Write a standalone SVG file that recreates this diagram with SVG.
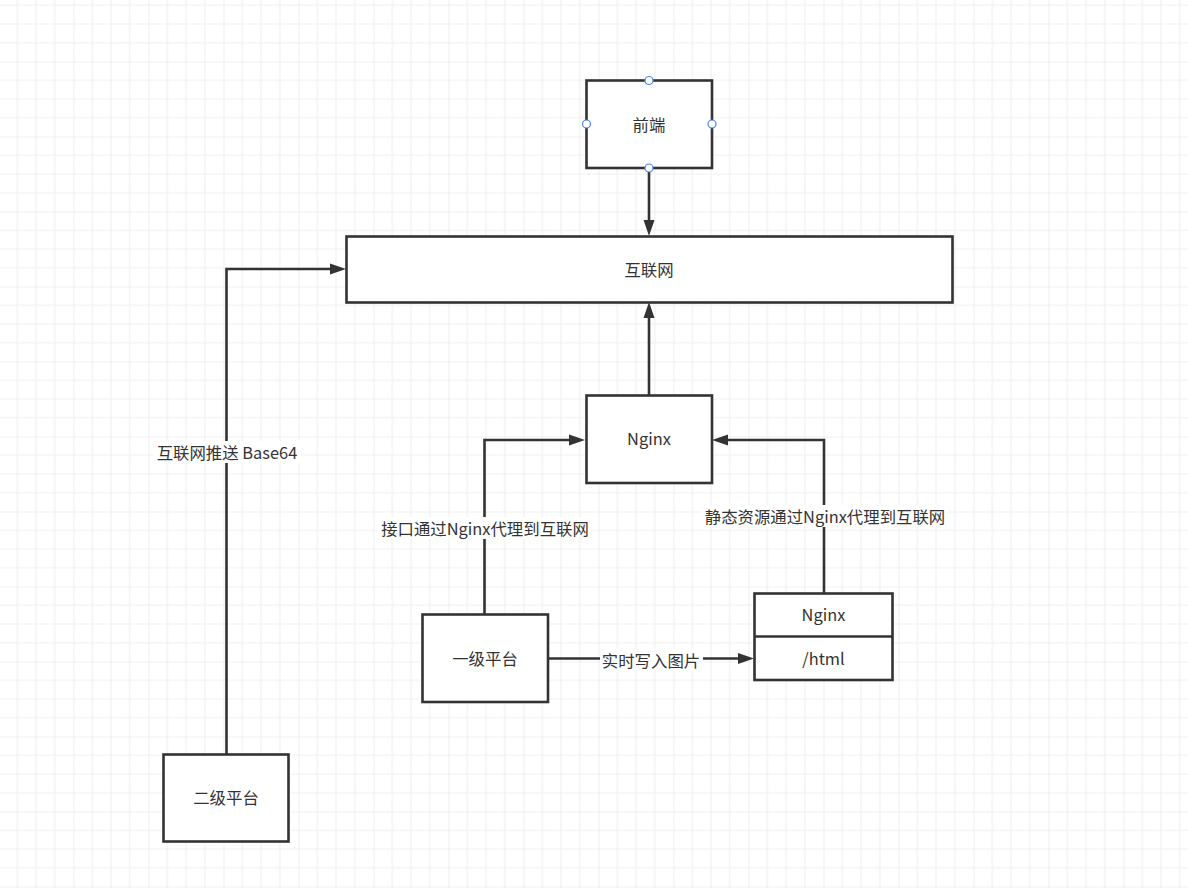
<svg xmlns="http://www.w3.org/2000/svg" width="1188" height="888" viewBox="0 0 1188 888">
<style>
.box{fill:#fff;stroke:#333;stroke-width:2.6}
.edge{fill:none;stroke:#333;stroke-width:2.6}
.t{font-family:"Noto Sans CJK SC","Microsoft YaHei",sans-serif;font-size:16.4px;fill:#333;text-anchor:middle;dominant-baseline:central}
.lbg{fill:#fff}
.pt{fill:#fff;stroke:#4a86e8;stroke-width:1.2}
</style>
<defs>
<pattern id="grid" patternUnits="userSpaceOnUse" x="-1.5" y="-13.5" width="75" height="75">
<path d="M18.75,0V75M37.5,0V75M56.25,0V75M0,18.75H75M0,37.5H75M0,56.25H75" stroke="#f0f0f0" stroke-width="1.2" fill="none"/>
<path d="M0,0V75M0,0H75" stroke="#e2e2e2" stroke-width="1.2" fill="none"/>
</pattern>
<marker id="arr" markerUnits="userSpaceOnUse" markerWidth="18" markerHeight="14" refX="0" refY="6" orient="auto" overflow="visible">
<path d="M0,0.5L16,6L0,11.5z" fill="#333"/>
</marker>
</defs>
<rect width="1188" height="888" fill="#fff"/>
<rect width="1188" height="888" fill="url(#grid)"/>

<g id="connectors">
<path class="edge" d="M649,168V220" marker-end="url(#arr)"/>
<path class="edge" d="M649,395V318" marker-end="url(#arr)"/>
<path class="edge" d="M484.5,614V440H569" marker-end="url(#arr)"/>
<path class="edge" d="M824,593V440H728" marker-end="url(#arr)"/>
<path class="edge" d="M548,658.5H738" marker-end="url(#arr)"/>
<path class="edge" d="M226.5,754V269H330" marker-end="url(#arr)"/>
<rect class="lbg" x="378" y="517" width="214" height="22"/>
<text class="t" x="485" y="528">接口通过Nginx代理到互联网</text>
<rect class="lbg" x="702" y="505" width="246" height="22"/>
<text class="t" x="825" y="516">静态资源通过Nginx代理到互联网</text>
<rect class="lbg" x="154" y="441" width="147" height="22"/>
<text class="t" x="227" y="452">互联网推送 Base64</text>
<rect class="lbg" x="600" y="649" width="103" height="22"/>
<text class="t" x="651" y="660">实时写入图片</text>
</g>

<g id="frontend">
<rect class="box" x="586.5" y="80.5" width="125.5" height="87.5"/>
<text class="t" x="649" y="124">前端</text>
<circle class="pt" cx="649" cy="80.5" r="4"/>
<circle class="pt" cx="586.5" cy="124" r="4"/>
<circle class="pt" cx="712" cy="124" r="4"/>
<circle class="pt" cx="649" cy="168" r="4"/>
</g>

<g id="internet">
<rect class="box" x="346.5" y="236.5" width="606" height="66"/>
<text class="t" x="649" y="269">互联网</text>
</g>

<g id="nginx">
<rect class="box" x="586.5" y="395.5" width="125.5" height="87.5"/>
<text class="t" x="649" y="438">Nginx</text>
</g>

<g id="level1">
<rect class="box" x="422.5" y="614.5" width="125.5" height="87.5"/>
<text class="t" x="485" y="658">一级平台</text>
</g>

<g id="nginx-html">
<rect class="box" x="754.5" y="593.5" width="138" height="86.5"/>
<path class="edge" d="M754.5,636.5H892.5"/>
<text class="t" x="823.5" y="614">Nginx</text>
<text class="t" x="823.5" y="658">/html</text>
</g>

<g id="level2">
<rect class="box" x="163.5" y="754.5" width="125" height="87"/>
<text class="t" x="226" y="797">二级平台</text>
</g>
</svg>
